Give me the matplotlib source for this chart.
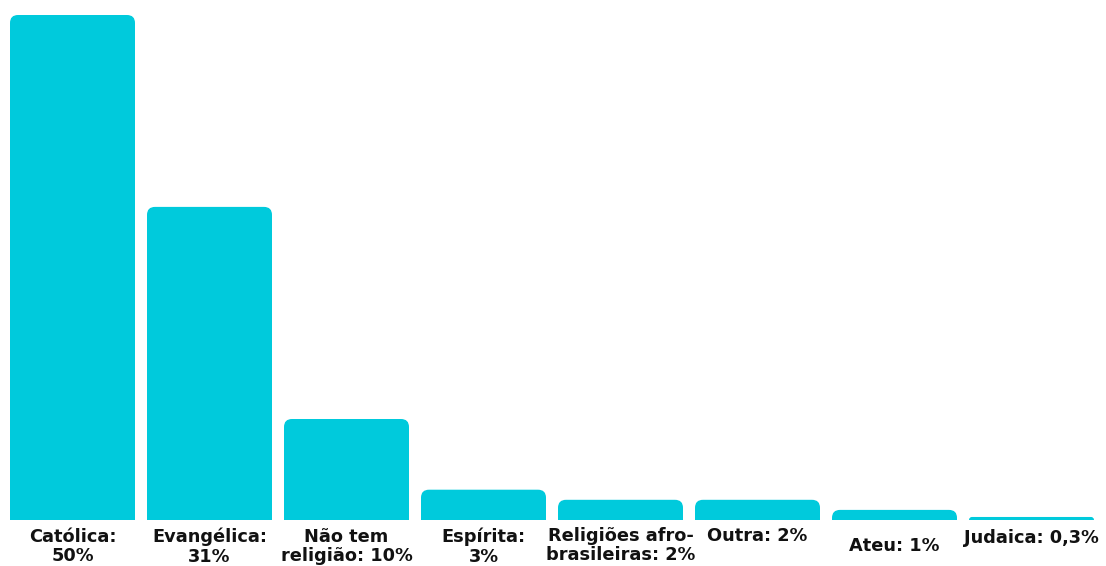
import matplotlib
matplotlib.use("Agg")
import matplotlib.pyplot as plt
from matplotlib.path import Path
from matplotlib.patches import PathPatch
from matplotlib.transforms import IdentityTransform

# data
categories = ["Católica:\n50%", "Evangélica:\n31%", "Não tem\nreligião: 10%", "Espírita:\n3%",
              "Religiões afro-\nbrasileiras: 2%", "Outra: 2%", "Ateu: 1%", "Judaica: 0,3%"]
values = [50, 31, 10, 3, 2, 2, 1, 0.3]

# label drop below baseline, in pixels (the source staggers a couple of them)
label_drop = [8, 8, 8, 8, 7, 7, 17, 9]

BAR_COLOR = "#00CADC"
RADIUS = 8  # px

fig = plt.figure(figsize=(11.06, 5.66), dpi=100, facecolor="white")
ax = fig.add_axes([4 / 1106, 46 / 566, 1096 / 1106, 505 / 566])
ax.set_xlim(-0.5, len(values) - 0.5)
ax.set_ylim(0, 50)
ax.axis("off")

width = 125 / 137
fig.canvas.draw()
for i, v in enumerate(values):
    (x0, y0) = ax.transData.transform((i - width / 2, 0))
    (x1, y1) = ax.transData.transform((i + width / 2, v))
    r = min(RADIUS, y1 - y0)
    verts = [(x0, y0), (x0, y1 - r), (x0, y1), (x0 + r, y1),
             (x1 - r, y1), (x1, y1), (x1, y1 - r), (x1, y0), (x0, y0)]
    codes = [Path.MOVETO, Path.LINETO, Path.CURVE3, Path.CURVE3,
             Path.LINETO, Path.CURVE3, Path.CURVE3, Path.LINETO, Path.CLOSEPOLY]
    patch = PathPatch(Path(verts, codes), facecolor=BAR_COLOR, edgecolor="none",
                      transform=IdentityTransform())
    fig.add_artist(patch)

    ax.annotate(categories[i], xy=(i, 0), xycoords="data",
                xytext=(0, -label_drop[i] * 72 / fig.dpi), textcoords="offset points",
                ha="center", va="top", multialignment="center",
                fontsize=12.8, fontweight="bold", family=["DejaVu Sans"],
                color="#111111", linespacing=1.1, annotation_clip=False)

fig.savefig("out.png", dpi=100, facecolor="white")
